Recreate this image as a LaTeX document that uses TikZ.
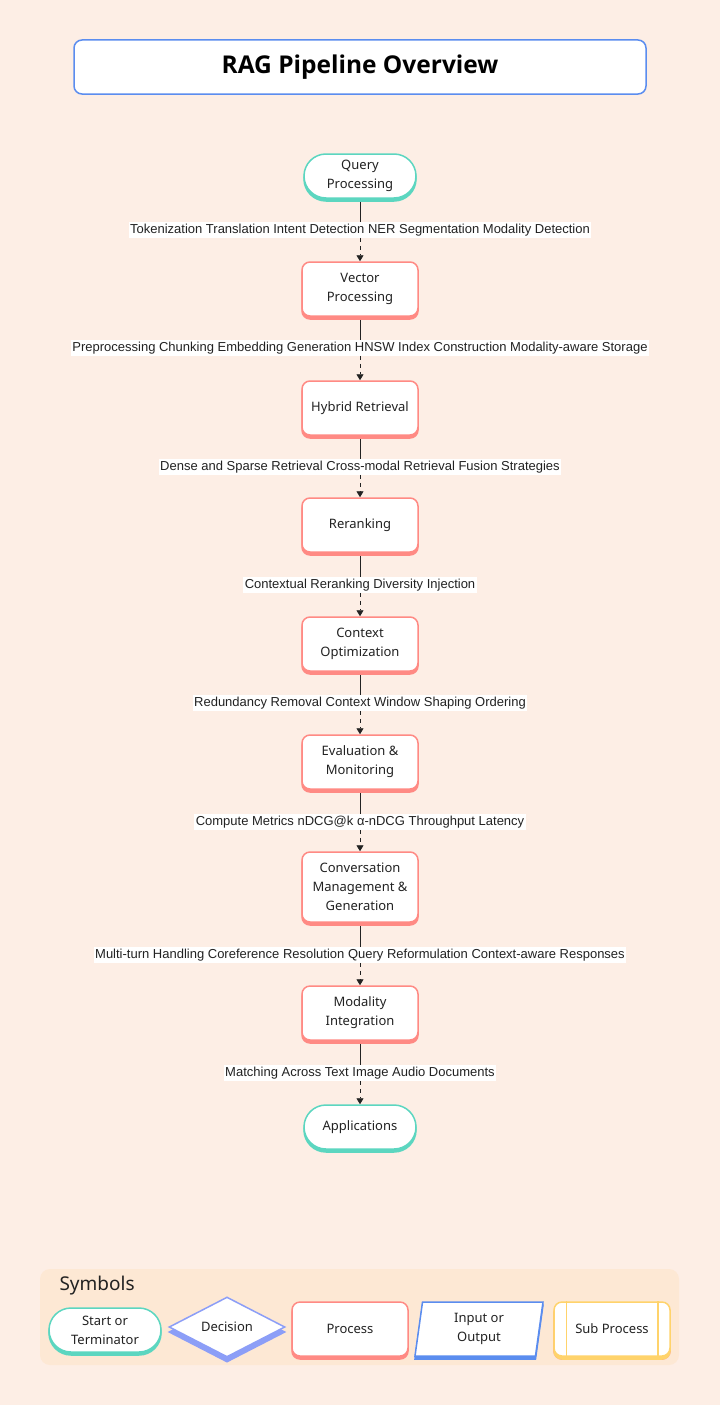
\documentclass[tikz,border=0pt]{standalone}
\usepackage{fontspec}
\setmainfont{Liberation Sans}
\newfontfamily\boxfont{Noto Sans}
\newfontfamily\titlefont{Open Sans}
\usetikzlibrary{arrows.meta,shapes.misc,shapes.geometric,shadows}
\definecolor{pagebg}{HTML}{FDEEE5}
\definecolor{legendbg}{HTML}{FDE8D4}
\definecolor{termteal}{HTML}{5CD6C0}
\definecolor{procred}{HTML}{FF8A84}
\definecolor{titleblue}{HTML}{5B8DEF}
\definecolor{decblue}{HTML}{8C9EF7}
\definecolor{subyellow}{HTML}{FFD36B}
\definecolor{inkcol}{HTML}{222222}
\tikzset{
  boxtext/.style={font=\boxfont\fontsize{13}{19}\selectfont, text=inkcol, align=center},
  procbox/.style={boxtext, rectangle, rounded corners=8pt, draw=procred, line width=1.5pt, fill=white,
    minimum width=116pt, minimum height=54pt, inner sep=2pt,
    copy shadow={shadow xshift=0pt, shadow yshift=-3pt, fill=procred, draw=procred}},
  termbox/.style={boxtext, rounded rectangle, draw=termteal, line width=1.5pt, fill=white,
    minimum width=116pt, minimum height=44pt, inner sep=2pt,
    copy shadow={shadow xshift=0pt, shadow yshift=-3pt, fill=termteal, draw=termteal}},
  edgelab/.style={font=\fontsize{13}{15}\selectfont, text=inkcol, fill=white, inner sep=1.5pt},
  flowline/.style={draw=inkcol, line width=0.9pt},
  flowarrow/.style={flowline, dash pattern=on 4pt off 4pt, -{Triangle[width=7pt,length=6pt]}}
}
\begin{document}
\begin{tikzpicture}[x=1pt,y=-1pt]
  \fill[pagebg] (0,0) rectangle (720,1405);
  \useasboundingbox (0,0) rectangle (720,1405);
  % title
  \node[rectangle, rounded corners=8pt, draw=titleblue, line width=1.5pt, fill=white,
    minimum width=572pt, minimum height=54pt, font=\titlefont\bfseries\fontsize{24.5}{30}\selectfont, text=black]
    (title) at (360,67) {RAG Pipeline Overview};
  % pipeline
  \node[termbox] (query) at (360,176) {Query\\Processing};
  \node[procbox] (vector) at (360,289) {Vector\\Processing};
  \node[procbox] (hybrid) at (360,408) {Hybrid Retrieval};
  \node[procbox] (rerank) at (360,525) {Reranking};
  \node[procbox] (context) at (360,644) {Context\\Optimization};
  \node[procbox] (eval) at (360,762) {Evaluation \&\\Monitoring};
  \node[procbox, minimum height=70pt] (conv) at (360,887) {Conversation\\Management \&\\Generation};
  \node[procbox] (modal) at (360,1013) {Modality\\Integration};
  \node[termbox] (apps) at (360,1127) {Applications};
  % edge labels
  \node[edgelab] (lab1) at (360,230) {Tokenization Translation Intent Detection NER Segmentation Modality Detection};
  \node[edgelab] (lab2) at (360,348) {Preprocessing Chunking Embedding Generation HNSW Index Construction Modality-aware Storage};
  \node[edgelab] (lab3) at (360,467) {Dense and Sparse Retrieval Cross-modal Retrieval Fusion Strategies};
  \node[edgelab] (lab4) at (360,585) {Contextual Reranking Diversity Injection};
  \node[edgelab] (lab5) at (360,703) {Redundancy Removal Context Window Shaping Ordering};
  \node[edgelab] (lab6) at (360,822) {Compute Metrics nDCG@k α-nDCG Throughput Latency};
  \node[edgelab] (lab7) at (360,955) {Multi-turn Handling Coreference Resolution Query Reformulation Context-aware Responses};
  \node[edgelab] (lab8) at (360,1073) {Matching Across Text Image Audio Documents};
  % connectors
  \foreach \src/\lab/\dst in {query/lab1/vector, vector/lab2/hybrid, hybrid/lab3/rerank, rerank/lab4/context,
      context/lab5/eval, eval/lab6/conv, conv/lab7/modal, modal/lab8/apps} {
    \draw[flowline] ([yshift=-3pt]\src.south) -- (\lab.north);
    \draw[flowarrow] (\lab.south) -- (\dst.north);
  }
  % legend
  \fill[legendbg, rounded corners=10pt] (40,1269) rectangle (679,1365);
  \node[anchor=west, font=\boxfont\fontsize{19}{23}\selectfont, text=inkcol] (symbols) at (56,1286) {Symbols};
  \node[termbox] (legstart) at (105,1330) {Start or\\Terminator};
  \node[boxtext, diamond, aspect=2, draw=decblue, line width=1.5pt, fill=white, inner sep=0pt,
    minimum width=116pt, minimum height=60pt,
    copy shadow={shadow xshift=0pt, shadow yshift=-5pt, fill=decblue, draw=decblue}] (legdec) at (227,1327) {Decision};
  \node[procbox] (legproc) at (350,1329) {Process};
  \node[boxtext, trapezium, trapezium left angle=78, trapezium right angle=102, trapezium stretches body,
    draw=titleblue, line width=1.5pt, fill=white, minimum width=128pt, minimum height=54pt, inner sep=2pt,
    copy shadow={shadow xshift=0pt, shadow yshift=-3pt, fill=titleblue, draw=titleblue}] (legio) at (479,1329) {Input or\\Output};
  \node[procbox, draw=subyellow, copy shadow={shadow xshift=0pt, shadow yshift=-3pt, fill=subyellow, draw=subyellow}]
    (legsub) at (612,1329) {Sub Process};
  \draw[subyellow, line width=1.5pt] ([xshift=13pt]legsub.north west) -- ([xshift=13pt]legsub.south west);
  \draw[subyellow, line width=1.5pt] ([xshift=-13pt]legsub.north east) -- ([xshift=-13pt]legsub.south east);
\end{tikzpicture}
\end{document}
